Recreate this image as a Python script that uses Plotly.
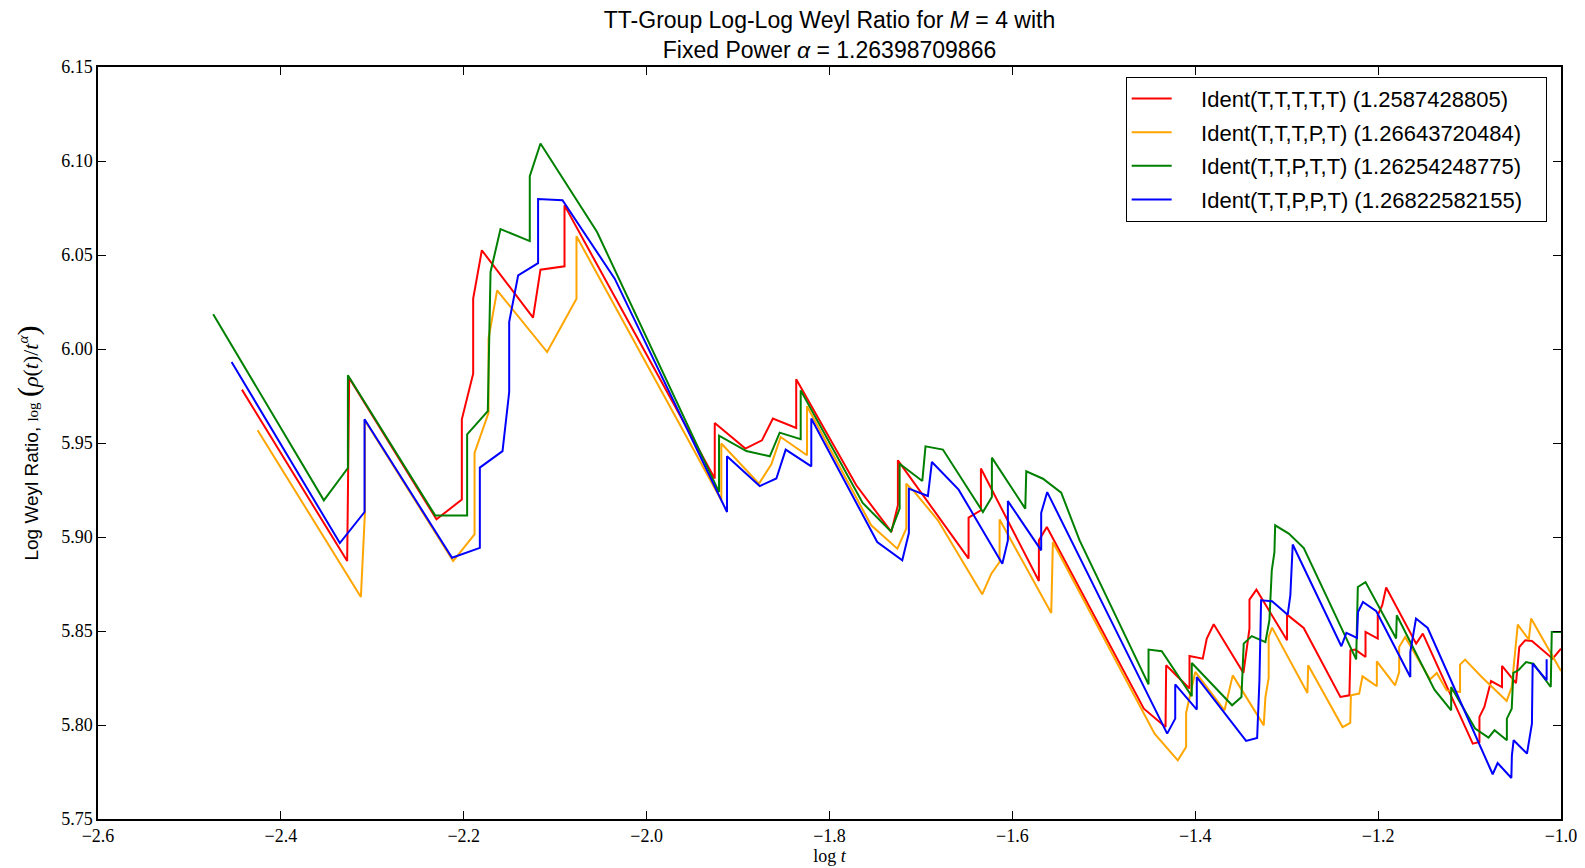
import plotly.graph_objects as go

red_x = [-2.4426, -2.3275, -2.3253, -2.2298, -2.2021, -2.2021, -2.1897, -2.1897, -2.1802, -2.1242, -2.1161, -2.0898, -2.0898,
         -1.9255, -1.9255, -1.892, -1.8739, -1.8619, -1.8364, -1.8364, -1.7707, -1.7324, -1.7252, -1.7252, -1.6479, -1.6479,
         -1.6344, -1.6344, -1.571, -1.571, -1.5623, -1.4562, -1.4325, -1.4318, -1.4063, -1.4063, -1.3918, -1.3874, -1.3798,
         -1.3473, -1.3407, -1.3407, -1.3331, -1.2996, -1.2996, -1.2814, -1.2413, -1.2314, -1.2303, -1.2249, -1.2138, -1.2138,
         -1.2004, -1.2004, -1.1955, -1.1912, -1.1584, -1.1511, -1.0965, -1.0892, -1.0892, -1.0838, -1.0765, -1.0645, -1.0645,
         -1.0492, -1.0456, -1.0391, -1.0318, -1.0091, -1.0]
red_y = [5.9784, 5.8872, 5.9846, 5.9094, 5.9199, 5.9626, 5.9869, 6.0268, 6.0525, 6.0167, 6.0422, 6.044, 6.0764,
         5.9311, 5.9606, 5.947, 5.9514, 5.963, 5.958, 5.9839, 5.9275, 5.9027, 5.9169, 5.9408, 5.8885, 5.9103,
         5.9142, 5.9364, 5.8766, 5.8982, 5.9053, 5.8087, 5.7989, 5.8318, 5.8194, 5.8367, 5.8353, 5.846, 5.8536,
         5.8277, 5.8513, 5.8667, 5.872, 5.8451, 5.8587, 5.8516, 5.8149, 5.8158, 5.8397, 5.8401, 5.8362, 5.8495,
         5.846, 5.8584, 5.8637, 5.8731, 5.8433, 5.8486, 5.7901, 5.791, 5.8043, 5.8096, 5.8234, 5.8202, 5.8314,
         5.8223, 5.8415, 5.8451, 5.8447, 5.8353, 5.8406]

orange_x = [-2.4254, -2.3125, -2.3081, -2.3081, -2.2116, -2.1882, -2.1882, -2.1729, -2.1729, -2.1635, -2.1088, -2.0767,
            -2.0767, -1.9183, -1.9183, -1.8771, -1.8636, -1.8534, -1.8246, -1.8246, -1.7544, -1.7258, -1.716, -1.716,
            -1.7069, -1.6814, -1.633, -1.623, -1.614, -1.614, -1.5575, -1.5557, -1.4445, -1.4191, -1.41, -1.41, -1.4,
            -1.368, -1.359, -1.3251, -1.3233, -1.3197, -1.3197, -1.316, -1.2773, -1.2765, -1.2389, -1.2305, -1.2298,
            -1.2207, -1.2171, -1.2014, -1.2014, -1.1814, -1.177, -1.177, -1.1705, -1.1432, -1.1359, -1.125, -1.1104,
            -1.1104, -1.1049, -1.0867, -1.0594, -1.0539, -1.0473, -1.0352, -1.0327, -1.0]
orange_y = [5.9568, 5.8681, 5.9128, 5.962, 5.8872, 5.9014, 5.9447, 5.966, 6.0055, 6.0312, 5.9984, 6.0268,
            6.06, 5.9195, 5.9497, 5.9284, 5.9387, 5.9532, 5.9435, 5.9695, 5.9062, 5.8938, 5.9045, 5.9284,
            5.9239, 5.9089, 5.8695, 5.8805, 5.8867, 5.9093, 5.8596, 5.8973, 5.7954, 5.7812, 5.7883, 5.8064, 5.8282,
            5.8078, 5.8264, 5.7998, 5.8146, 5.825, 5.8468, 5.8518, 5.817, 5.8318, 5.7989, 5.8011, 5.8158,
            5.8167, 5.8259, 5.8206, 5.8339, 5.8211, 5.8282, 5.8415, 5.8468, 5.8242, 5.8277, 5.8184, 5.8176,
            5.8321, 5.8348, 5.8255, 5.8128, 5.8202, 5.8534, 5.8454, 5.8566, 5.8287]

green_x = [-2.474, -2.353, -2.3267, -2.3267, -2.2313, -2.1963, -2.1963, -2.1737, -2.1707, -2.1598, -2.1278, -2.1278,
           -2.1161, -2.0542, -1.9208, -1.9208, -1.8909, -1.8653, -1.8545, -1.8315, -1.8315, -1.7637, -1.7328, -1.7233,
           -1.7233, -1.6985, -1.695, -1.676, -1.6322, -1.6224, -1.6224, -1.5859, -1.5848, -1.5666, -1.5466, -1.5265,
           -1.4511, -1.4511, -1.4366, -1.4038, -1.4038, -1.3771, -1.3597, -1.3495, -1.347, -1.3382, -1.3233, -1.3189,
           -1.3163, -1.3134, -1.3126, -1.2977, -1.2813, -1.224, -1.2222, -1.2138, -1.1803, -1.1796, -1.1384, -1.1201,
           -1.1201, -1.0939, -1.0793, -1.0727, -1.0592, -1.0592, -1.0539, -1.0521, -1.0466, -1.0382, -1.0302, -1.0112,
           -1.0101, -1.0]
green_y = [6.0185, 5.9195, 5.9367, 5.986, 5.9115, 5.9115, 5.9546, 5.9669, 6.041, 6.0638, 6.0574, 6.0919,
           6.1093, 6.0622, 5.9239, 5.9539, 5.9457, 5.9429, 5.9555, 5.952, 5.978, 5.9181, 5.903, 5.9151,
           5.939, 5.9298, 5.9482, 5.9465, 5.9133, 5.9213, 5.9422, 5.9151, 5.9349, 5.931, 5.9236, 5.8982,
           5.8216, 5.8401, 5.8392, 5.8153, 5.833, 5.8194, 5.8105, 5.8149, 5.8433, 5.8473, 5.8441, 5.8557,
           5.8823, 5.892, 5.9062, 5.9018, 5.8941, 5.8349, 5.8734, 5.876, 5.846, 5.8584, 5.8188, 5.8078,
           5.8202, 5.7981, 5.7933, 5.7972, 5.7919, 5.8034, 5.8087, 5.8277, 5.8291, 5.8335, 5.8326, 5.8202,
           5.8495, 5.8495]

blue_x = [-2.4539, -2.3355, -2.3085, -2.3085, -2.2128, -2.1824, -2.1824, -2.1576, -2.1503, -2.1503, -2.1405, -2.1187,
          -2.1187, -2.092, -2.0349, -1.9121, -1.9121, -1.8763, -1.8581, -1.8479, -1.8199, -1.8199, -1.7478, -1.7204,
          -1.7132, -1.7132, -1.6924, -1.688, -1.6588, -1.611, -1.6049, -1.6049, -1.5685, -1.5685, -1.5619, -1.4307,
          -1.4219, -1.4219, -1.3983, -1.3983, -1.3444, -1.3323, -1.3298, -1.328, -1.316, -1.2989, -1.296, -1.2934,
          -1.2402, -1.2347, -1.2231, -1.222, -1.2166, -1.202, -1.1648, -1.1648, -1.1586, -1.1458, -1.0747, -1.0693,
          -1.0543, -1.0537, -1.0518, -1.0372, -1.0318, -1.031, -1.0157, -1.0157]
blue_y = [5.9931, 5.8968, 5.9133, 5.9626, 5.889, 5.8942, 5.9369, 5.9457, 5.9771, 6.0144, 6.0392, 6.0457,
          6.0798, 6.0791, 6.0374, 5.9133, 5.9429, 5.9271, 5.9311, 5.9465, 5.9376, 5.963, 5.8973, 5.8876,
          5.9021, 5.9257, 5.9218, 5.9399, 5.9252, 5.8858, 5.8982, 5.9191, 5.8929, 5.9128, 5.9239, 5.7954,
          5.8034, 5.8216, 5.8082, 5.8255, 5.7915, 5.7931, 5.8238, 5.8663, 5.8658, 5.8587, 5.869, 5.896,
          5.8419, 5.849, 5.8463, 5.8601, 5.8654, 5.8605, 5.8255, 5.8388, 5.8566, 5.8516, 5.7738, 5.7798,
          5.7718, 5.7839, 5.7919, 5.7848, 5.8007, 5.8327, 5.8238, 5.835]

series = [
    ("Ident(T,T,T,T,T) (1.2587428805)", red_x, red_y, "#ff0000"),
    ("Ident(T,T,T,P,T) (1.26643720484)", orange_x, orange_y, "#ffa500"),
    ("Ident(T,T,P,T,T) (1.26254248775)", green_x, green_y, "#008000"),
    ("Ident(T,T,P,P,T) (1.26822582155)", blue_x, blue_y, "#0000ff"),
]

pad = "\u00a0"
fig = go.Figure()
for i, (name, xs, ys, col) in enumerate(series):
    fig.add_trace(go.Scatter(x=xs, y=ys, mode="lines", name=pad * 4 + name + pad * 3,
                             legendgroup=f"g{i}", line=dict(color=col, width=2)))

serif = "Liberation Serif, DejaVu Serif, serif"
sans = "Liberation Sans, Arial, sans-serif"

axis_common = dict(showline=True, linecolor="black", linewidth=1.5, mirror="allticks",
                   ticks="inside", ticklen=8, tickwidth=1, tickcolor="black",
                   showgrid=False, zeroline=False, automargin=False,
                   tickfont=dict(family=serif, size=18, color="black"))

ytitle = ("Log Weyl Ratio, "
          "<span style='font-family:Liberation Serif;font-size:15px'>log</span> "
          "<span style='font-family:Liberation Serif;font-size:30px'>(</span>"
          "<span style='font-family:Liberation Serif;font-size:22px'><i>ρ</i>(<i>t</i>)/<i>t</i><sup><i>α</i></sup></span>"
          "<span style='font-family:Liberation Serif;font-size:30px'>)</span>")

fig.update_layout(
    width=1577, height=860,
    paper_bgcolor="white", plot_bgcolor="white",
    margin=dict(l=90, r=24, t=59, b=49, autoexpand=False),
    title=dict(text="TT-Group Log-Log Weyl Ratio for <i>M</i> = 4 with<br>Fixed Power <i>α</i> = 1.26398709866",
               x=0.5, xref="paper", y=1 - 20 / 860, yref="container", yanchor="middle",
               font=dict(family=sans, size=23, color="black")),
    xaxis=dict(range=[-2.6, -1.0], dtick=0.2, tick0=-2.6, tickformat=".1f",
               title=dict(text="log <i>t</i>", font=dict(family=serif, size=18, color="black"), standoff=4),
               **axis_common),
    yaxis=dict(range=[5.75, 6.15], dtick=0.05, tick0=5.75, tickformat=".2f",
               title=dict(text=ytitle, font=dict(family=sans, size=19, color="black"), standoff=18),
               **axis_common),
    legend=dict(x=0.9902, y=0.987, xanchor="right", yanchor="top",
                bordercolor="black", borderwidth=1, bgcolor="white", itemwidth=40,
                font=dict(family=sans, size=22, color="black"), tracegroupgap=2),
    showlegend=True,
)

fig.write_html("out.html")
